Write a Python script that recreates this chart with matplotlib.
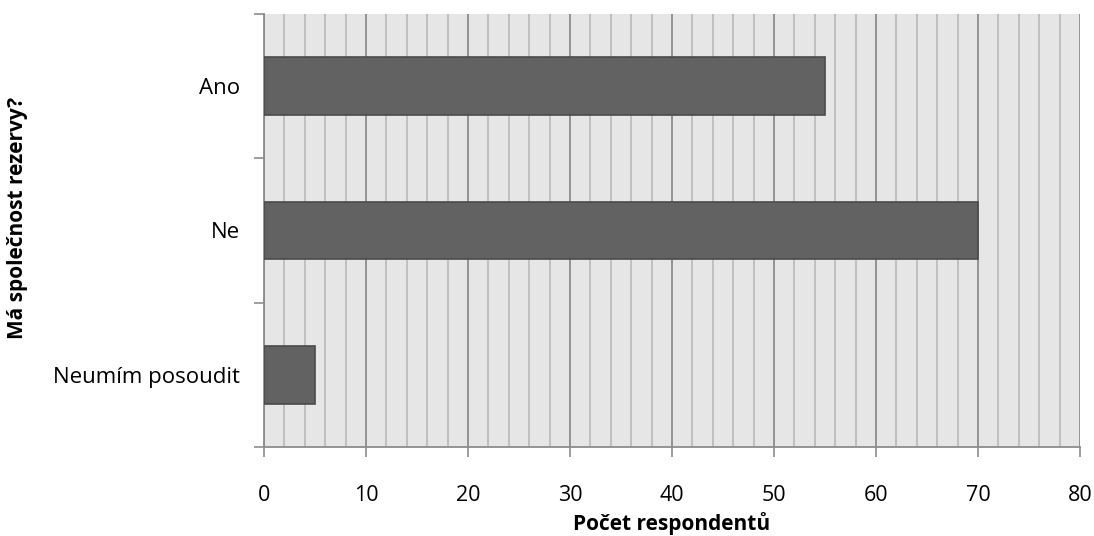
import matplotlib.pyplot as plt
from matplotlib.ticker import MultipleLocator

categories = ['Ano', 'Ne', 'Neumím posoudit']
counts = [55, 70, 5]

plt.rcParams['font.family'] = ['Open Sans', 'DejaVu Sans']

fig = plt.figure(figsize=(10.94, 5.36), dpi=100)
ax = fig.add_axes([0.2413, 0.166, 0.7459, 0.808])
ax.set_facecolor('#e6e6e6')

ypos = list(range(len(categories)))
ax.barh(ypos, counts, height=0.4, color='#626262', edgecolor='#4a4a4a',
        linewidth=1.2, zorder=3)

ax.set_xlim(0, 80)
ax.set_ylim(len(categories) - 0.5, -0.5)
ax.xaxis.set_major_locator(MultipleLocator(10))
ax.xaxis.set_minor_locator(MultipleLocator(2))
ax.grid(axis='x', which='major', color='#8c8c8c', linewidth=1.3, zorder=1)
ax.grid(axis='x', which='minor', color='#bdbdbd', linewidth=1.3, zorder=1)
ax.tick_params(axis='x', which='minor', length=0)
ax.tick_params(axis='x', which='major', length=7, width=1.2, color='#8c8c8c',
               labelsize=15.5, pad=20)

# category labels sit between boundary ticks
ax.set_yticks([y - 0.5 for y in range(len(categories) + 1)])
ax.set_yticklabels([])
ax.set_yticks(ypos, minor=True)
ax.set_yticklabels(categories, minor=True, fontsize=16)
ax.tick_params(axis='y', which='major', length=7, width=1.2, color='#8c8c8c')
ax.tick_params(axis='y', which='minor', length=0, pad=17)

for side in ['top', 'right']:
    ax.spines[side].set_visible(False)
for side in ['left', 'bottom']:
    ax.spines[side].set_color('#8c8c8c')
    ax.spines[side].set_linewidth(1.3)

ax.set_xlabel('Počet respondentů', fontsize=15, fontweight='bold', labelpad=5)
ax.set_ylabel('Má společnost rezervy?', fontsize=15, fontweight='bold')
ax.yaxis.set_label_coords(-0.289, 0.53)

fig.savefig('out.png', dpi=100)
